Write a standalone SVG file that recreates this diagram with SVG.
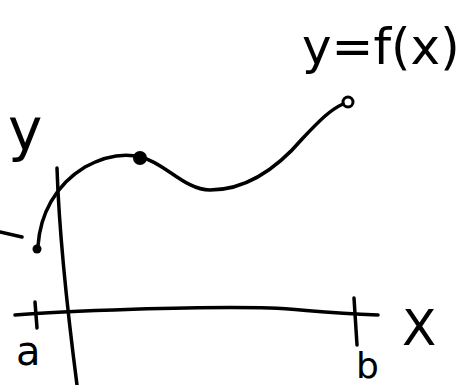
<svg xmlns="http://www.w3.org/2000/svg" width="461" height="385" viewBox="0 0 461 385">
<style>
.s{fill:none;stroke:#000;stroke-width:3.5;stroke-linecap:round;stroke-linejoin:round}
.t{font-family:"DejaVu Sans","Liberation Sans",sans-serif;fill:#000}
</style>
<rect width="461" height="385" fill="#fff"/>
<g id="axes">
<path class="s" d="M57,168 C59,230 66,300 77,385"/>
<path class="s" d="M15,315 C60,311 200,306 270,308 C300,309 320,313 378,315"/>
<path class="s" d="M35,302 L37,328"/>
<path class="s" d="M354,298 L357,345"/>
<path class="s" d="M0,232 L22,237"/>
</g>
<g id="curve">
<path class="s" d="M38,246 C40,215 55,185 85,167 C105,156 125,153 141,157 C165,163 185,190 210,190 C250,190 280,165 303,138 C320,120 330,110 343,104"/>
<circle cx="140" cy="158" r="7" fill="#000"/>
<circle cx="37" cy="249" r="4.5" fill="#000"/>
<circle cx="348" cy="102" r="5" fill="none" stroke="#000" stroke-width="3"/>
</g>
<g id="labels">
<text class="t" x="8" y="150" font-size="58">y</text>
<text class="t" x="302" y="64" font-size="50">y=f(x)</text>
<text class="t" x="16" y="365" font-size="40">a</text>
<text class="t" x="356" y="378" font-size="36">b</text>
<text class="t" x="402" y="345" font-size="50">X</text>
</g>
</svg>
